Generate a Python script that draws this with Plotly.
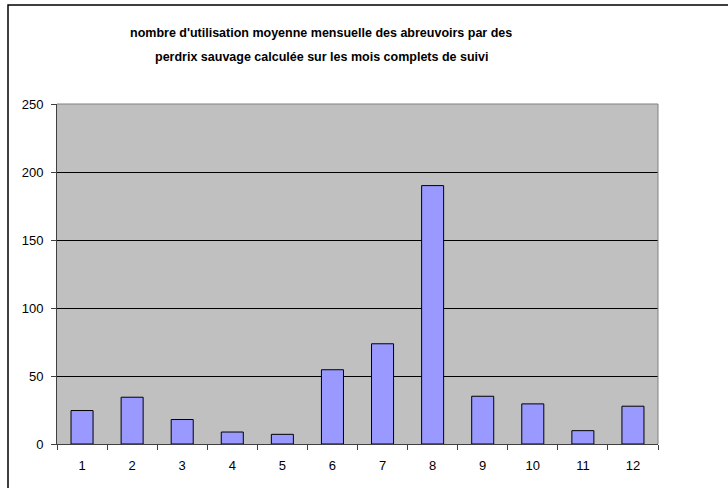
import plotly.graph_objects as go

months = ["1", "2", "3", "4", "5", "6", "7", "8", "9", "10", "11", "12"]
values = [24.6, 34.4, 18.0, 8.8, 7.1, 54.6, 73.7, 190.0, 35.1, 29.5, 9.8, 27.8]
title_lines = [
    "nombre d'utilisation moyenne mensuelle des abreuvoirs par des",
    "perdrix sauvage calculée sur les mois complets de suivi",
]
y_ticks = [0, 50, 100, 150, 200, 250]

W, H = 728, 488
L, R, T, B = 57, 70, 104, 44
pw, ph = W - L - R, H - T - B

def px_x(x):
    return (x - L) / pw

def px_y(y):
    return (H - B - y) / ph

fig = go.Figure()
fig.add_trace(go.Bar(
    x=months, y=values,
    width=0.44,
    marker=dict(color="#9999FF", line=dict(color="black", width=1)),
))

font = "Liberation Sans, Arial, sans-serif"
fig.update_layout(
    width=W, height=H,
    margin=dict(l=L, r=R, t=T, b=B),
    paper_bgcolor="white",
    plot_bgcolor="#C0C0C0",
    showlegend=False,
    font=dict(family=font, size=13, color="black"),
    xaxis=dict(
        type="category",
        tickson="boundaries",
        ticks="outside", ticklen=5, tickcolor="#404040", tickwidth=1,
        showline=True, linecolor="#404040", linewidth=1,
        showgrid=False,
        tickfont=dict(size=13, family=font),
        ticklabelstandoff=9,
        range=[-0.5, 11.5],
    ),
    yaxis=dict(
        range=[0, 250],
        tickvals=y_ticks,
        ticks="outside", ticklen=5, tickcolor="#404040", tickwidth=1,
        showline=True, linecolor="#404040", linewidth=1,
        showgrid=True, gridcolor="black", gridwidth=1,
        tickfont=dict(size=13, family=font),
        ticklabelstandoff=5,
        zeroline=False,
    ),
    shapes=[
        dict(type="rect", xref="paper", yref="paper",
             x0=px_x(8), x1=px_x(W + 10), y0=px_y(H + 10), y1=px_y(5),
             line=dict(color="black", width=1.5), fillcolor="rgba(0,0,0,0)", layer="below"),
        dict(type="line", xref="paper", yref="paper", x0=0, x1=1, y0=1, y1=1,
             line=dict(color="#808080", width=1)),
        dict(type="line", xref="paper", yref="paper", x0=1, x1=1, y0=0, y1=1,
             line=dict(color="#808080", width=1)),
    ],
    annotations=[
        dict(text="<b>%s</b>" % title_lines[0], xref="paper", yref="paper",
             x=px_x(321), y=px_y(33), xanchor="center", yanchor="middle",
             showarrow=False, font=dict(size=12.5, family=font)),
        dict(text="<b>%s</b>" % title_lines[1], xref="paper", yref="paper",
             x=px_x(321), y=px_y(57), xanchor="center", yanchor="middle",
             showarrow=False, font=dict(size=12.5, family=font)),
    ],
)

fig.write_html(
    "out.html",
    config={"displayModeBar": False},
    post_script="document.body.style.margin='0';document.body.style.overflow='hidden';",
)
